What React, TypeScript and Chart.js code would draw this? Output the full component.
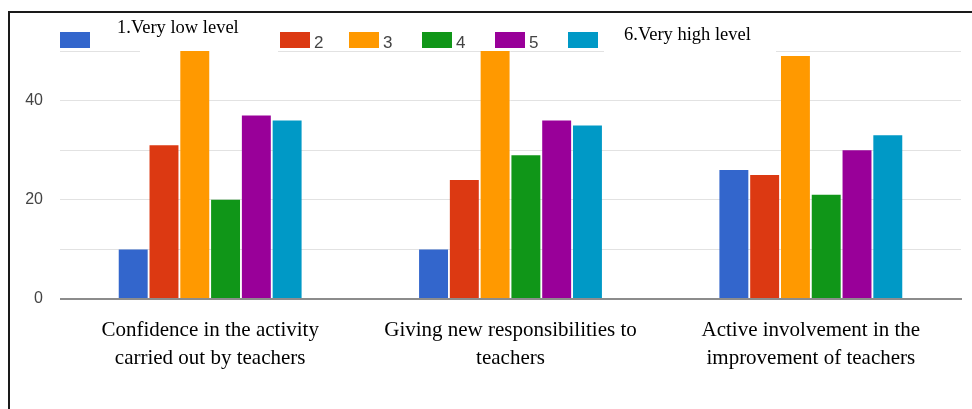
import React, { useEffect, useRef } from 'react';
import { Chart, registerables } from 'chart.js';

Chart.register(...registerables);

// ---- data ----
const categories: string[][] = [
  ['Confidence in the activity', 'carried out by teachers'],
  ['Giving new responsibilities to', 'teachers'],
  ['Active involvement in the', 'improvement of teachers'],
];
const seriesNames = ['1.Very low level', '2', '3', '4', '5', '6.Very high level'];
const level1 = [10, 10, 26];
const level2 = [31, 24, 25];
const level3 = [50, 50, 49];
const level4 = [20, 29, 21];
const level5 = [37, 36, 30];
const level6 = [36, 35, 33];
const yTickLabels = [0, 20, 40];

const seriesValues = [level1, level2, level3, level4, level5, level6];
const colors = ['#3366cc', '#dc3912', '#ff9900', '#109618', '#990099', '#0099c6'];

const SERIF = '"Liberation Serif", "Times New Roman", serif';
const SANS = '"Liberation Sans", Arial, sans-serif';

// legend layout
const legendBoxX = [60, 280, 349, 422, 495, 568];
const legendBoxY = 32;
const legendBoxW = 30;
const legendBoxH = 16;

const decorPlugin = {
  id: 'decor',
  beforeDraw(chart: any) {
    const ctx = chart.ctx as CanvasRenderingContext2D;
    ctx.save();
    ctx.fillStyle = '#ffffff';
    ctx.fillRect(0, 0, chart.width, chart.height);
    ctx.fillStyle = '#1a1a1a';
    ctx.fillRect(8, 11, 2, chart.height - 11);
    ctx.fillRect(8, 11, chart.width - 8, 2);
    ctx.restore();
  },
  beforeDatasetsDraw(chart: any) {
    const ctx = chart.ctx as CanvasRenderingContext2D;
    ctx.save();
    // white text boxes that hide parts of the top grid line
    ctx.fillStyle = '#ffffff';
    ctx.fillRect(140, 47, 138, 8);
    ctx.fillRect(604, 47, 172, 8);
    ctx.restore();
  },
  afterDatasetsDraw(chart: any) {
    const ctx = chart.ctx as CanvasRenderingContext2D;
    const { chartArea } = chart;
    const y0 = chart.scales.y.getPixelForValue(0);
    ctx.save();
    ctx.fillStyle = '#8c8c8c';
    ctx.fillRect(chartArea.left, y0 - 1, chartArea.right - chartArea.left + 1, 2);
    ctx.restore();
  },
  afterDraw(chart: any) {
    const ctx = chart.ctx as CanvasRenderingContext2D;
    ctx.save();
    seriesNames.forEach((name, i) => {
      ctx.fillStyle = colors[i];
      ctx.fillRect(legendBoxX[i], legendBoxY, legendBoxW, legendBoxH);
      ctx.textBaseline = 'alphabetic';
      ctx.textAlign = 'left';
      if (i === 0) {
        ctx.fillStyle = '#000';
        ctx.font = `18.5px ${SERIF}`;
        ctx.fillText(name, 117, 32.5);
      } else if (i === seriesNames.length - 1) {
        ctx.fillStyle = '#000';
        ctx.font = `18.5px ${SERIF}`;
        ctx.fillText(name, 624, 39.5);
      } else {
        ctx.fillStyle = '#444';
        ctx.font = `17px ${SANS}`;
        ctx.fillText(name, legendBoxX[i] + 34, 47.5);
      }
    });
    ctx.restore();
  },
};

export default function App() {
  const ref = useRef<HTMLCanvasElement | null>(null);

  useEffect(() => {
    if (!ref.current) return;
    const chart = new Chart(ref.current, {
      type: 'bar',
      data: {
        labels: categories,
        datasets: seriesNames.map((name, i) => ({
          label: name,
          data: seriesValues[i],
          backgroundColor: colors[i],
          borderWidth: 0,
          barPercentage: 0.94,
          categoryPercentage: 0.615,
        })),
      },
      options: {
        animation: false,
        responsive: false,
        devicePixelRatio: 1,
        layout: { padding: { top: 51, right: 11, left: 0, bottom: 0 } },
        plugins: {
          legend: { display: false },
          tooltip: { enabled: false },
        },
        scales: {
          x: {
            grid: { display: false },
            border: { display: false },
            ticks: {
              color: '#000',
              padding: 10,
              maxRotation: 0,
              autoSkip: false,
              font: { family: SERIF, size: 21, lineHeight: 1.33 },
            },
            afterFit: (s: any) => {
              s.height = 110;
            },
          },
          y: {
            min: 0,
            max: 50,
            border: { display: false },
            grid: {
              drawTicks: false,
              color: (c: any) => (c.tick && c.tick.value === 0 ? 'rgba(0,0,0,0)' : '#e2e2e2'),
              lineWidth: 1,
            },
            ticks: {
              stepSize: 10,
              padding: 17,
              color: '#444',
              font: { family: SANS, size: 16 },
              callback: (v: any) => (yTickLabels.includes(Number(v)) ? String(v) : ''),
            },
            afterFit: (s: any) => {
              s.width = 60;
            },
          },
        },
      },
      plugins: [decorPlugin],
    });
    return () => chart.destroy();
  }, []);

  return (
    <div style={{ position: 'absolute', left: 0, top: 0, width: 972, height: 409 }}>
      <canvas ref={ref} width={972} height={409} style={{ display: 'block' }} />
    </div>
  );
}
